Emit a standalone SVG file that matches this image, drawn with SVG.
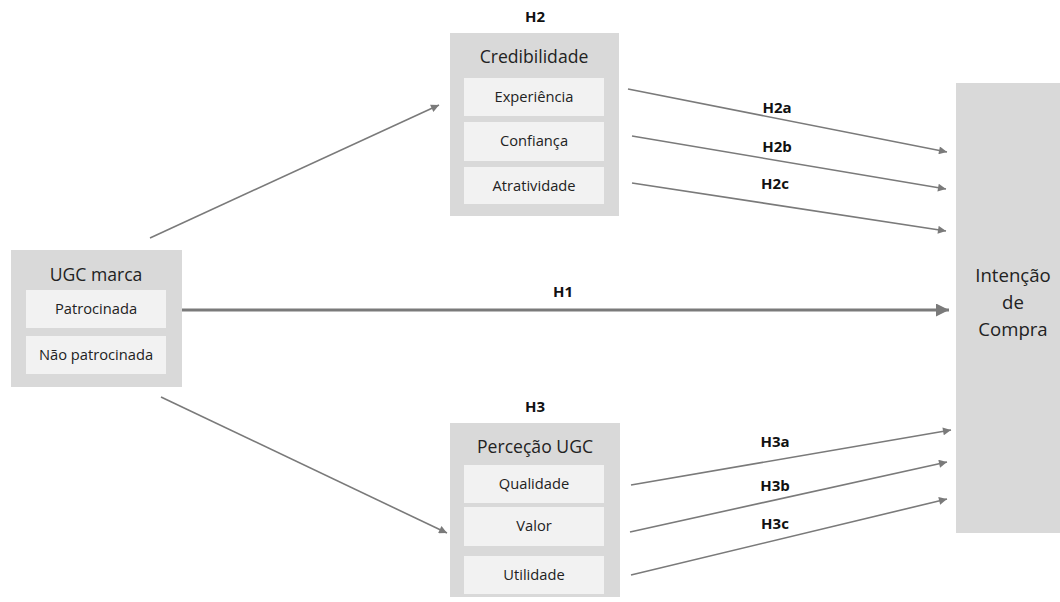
<svg xmlns="http://www.w3.org/2000/svg" width="1060" height="602" viewBox="0 0 1060 602">
<defs>
<style>
.outer{fill:#d9d9d9}
.inner{fill:#f2f2f2}
.title{font-family:"Open Sans",sans-serif;font-size:17.6px;fill:#222;text-anchor:middle}
.big{font-size:18.6px}
.item{font-family:"Open Sans",sans-serif;font-size:14.7px;fill:#222;text-anchor:middle}
.lbl{font-family:"Open Sans",sans-serif;font-size:15px;font-weight:bold;fill:#111;text-anchor:middle}
.conn{stroke:#7a7a7a;stroke-width:1.6;fill:none;marker-end:url(#ah)}
.thick{stroke:#7a7a7a;stroke-width:3;fill:none;marker-end:url(#ahb)}
</style>
<marker id="ah" viewBox="0 0 10 10" refX="10" refY="5" markerWidth="9" markerHeight="8" markerUnits="userSpaceOnUse" orient="auto"><path d="M0,0 L10,5 L0,10 z" fill="#7a7a7a"/></marker>
<marker id="ahb" viewBox="0 0 10 10" refX="10" refY="5" markerWidth="13" markerHeight="13" markerUnits="userSpaceOnUse" orient="auto"><path d="M0,0 L10,5 L0,10 z" fill="#7a7a7a"/></marker>
</defs>
<rect width="1060" height="602" fill="#fff"/>

<g id="ugc">
<rect class="outer" x="11" y="250" width="171" height="137"/>
<text class="title" x="96" y="281">UGC marca</text>
<rect class="inner" x="26" y="290" width="140" height="38"/>
<text class="item" x="96" y="314">Patrocinada</text>
<rect class="inner" x="26" y="336" width="140" height="38"/>
<text class="item" x="96" y="360">Não patrocinada</text>
</g>

<g id="credibilidade">
<text class="lbl" x="535" y="22">H2</text>
<rect class="outer" x="450" y="33" width="169" height="183"/>
<text class="title" x="534" y="63">Credibilidade</text>
<rect class="inner" x="464" y="78" width="140" height="38"/>
<text class="item" x="534" y="102">Experiência</text>
<rect class="inner" x="464" y="122" width="140" height="39"/>
<text class="item" x="534" y="146">Confiança</text>
<rect class="inner" x="464" y="167" width="140" height="37"/>
<text class="item" x="534" y="191">Atratividade</text>
</g>

<g id="percecao">
<text class="lbl" x="535" y="412">H3</text>
<rect class="outer" x="450" y="423" width="170" height="174"/>
<text class="title" x="535" y="453">Perceção UGC</text>
<rect class="inner" x="464" y="465" width="140" height="38"/>
<text class="item" x="534" y="489">Qualidade</text>
<rect class="inner" x="464" y="507" width="140" height="39"/>
<text class="item" x="534" y="531">Valor</text>
<rect class="inner" x="464" y="556" width="140" height="38"/>
<text class="item" x="534" y="580">Utilidade</text>
</g>

<g id="intencao">
<rect class="outer" x="956" y="83" width="104" height="450"/>
<text class="title big" x="1013" y="282">Intenção</text>
<text class="title big" x="1013" y="309">de</text>
<text class="title big" x="1013" y="336">Compra</text>
</g>

<g id="connectors">
<line class="conn" x1="150" y1="238" x2="439" y2="105"/>
<line class="conn" x1="161" y1="397" x2="447" y2="533"/>
<line class="thick" x1="182" y1="310" x2="949" y2="310"/>
<line class="conn" x1="628" y1="89" x2="947" y2="152"/>
<line class="conn" x1="632" y1="136" x2="946" y2="189"/>
<line class="conn" x1="632" y1="183" x2="946" y2="231"/>
<line class="conn" x1="631" y1="485" x2="951" y2="430"/>
<line class="conn" x1="630" y1="532" x2="947" y2="462"/>
<line class="conn" x1="631" y1="575" x2="947" y2="499"/>
</g>

<g id="labels">
<text class="lbl" x="563" y="297">H1</text>
<text class="lbl" x="777" y="113">H2a</text>
<text class="lbl" x="777" y="152">H2b</text>
<text class="lbl" x="775" y="189">H2c</text>
<text class="lbl" x="775" y="447">H3a</text>
<text class="lbl" x="775" y="491">H3b</text>
<text class="lbl" x="775" y="529">H3c</text>
</g>
</svg>
